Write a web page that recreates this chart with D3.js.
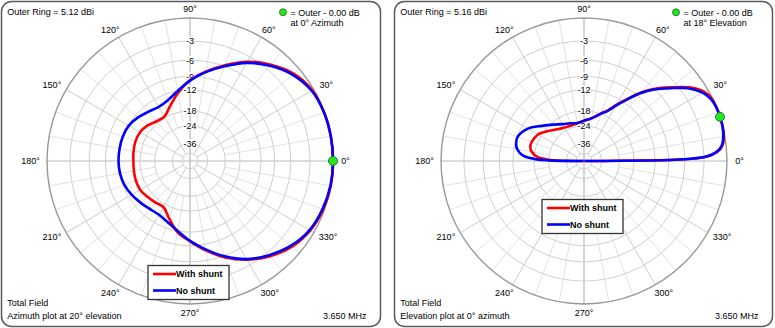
<!DOCTYPE html>
<html>
<head>
<meta charset="utf-8">
<script src="https://cdn.jsdelivr.net/npm/d3@7"></script>
<style>
  body { margin: 0; background: #fff; }
  svg { display: block; }
  text { font-family: "Liberation Sans", Arial, sans-serif; font-size: 9px; fill: #000; }
</style>
</head>
<body>
<svg id="chart" width="775" height="328"></svg>
<script>
// ---- Grid levels (dB below the outer ring) and angle ticks ----
const ringLevels = [-3, -6, -9, -12, -18, -24, -36];
const innerRingLevel = -50;
const angleTicks = [0, 30, 60, 90, 120, 150, 180, 210, 240, 270, 300, 330];
const minorAngles = [10, 20, 40, 50, 70, 80, 100, 110, 130, 140, 160, 170,
                     190, 200, 220, 230, 250, 260, 280, 290, 310, 320, 340, 350];
const seriesNames = ["With shunt", "No shunt"];

// ---- Azimuth pattern at 20° elevation (dB relative to outer ring) ----
const azAngles = [0, 10, 20, 30, 40, 50, 60, 70, 80, 90, 100, 110,
                  120, 130, 140, 150, 160, 170, 180, 190, 200, 210, 220, 230,
                  240, 250, 260, 270, 280, 290, 300, 310, 320, 330, 340, 350];
const azWithShunt = [0, 0, -0.05, -0.2, -0.9, -2.2, -3.8, -5.8, -7.8, -9.8, -12.5, -15.4,
                     -17.6, -17.4, -16.3, -15.6, -15.5, -15.7, -15.9, -15.8, -15.6, -15.6, -16.2, -16.7,
                     -17.0, -14.6, -11.7, -9.9, -7.8, -5.7, -3.9, -2.4, -1.2, -0.5, -0.15, 0];
const azNoShunt   = [0, 0, -0.05, -0.3, -1.1, -2.4, -4.0, -6.0, -7.9, -9.9, -12.0, -13.6,
                     -14.2, -13.7, -12.8, -12.1, -11.9, -11.9, -11.9, -12.0, -12.3, -12.9, -13.6, -14.2,
                     -14.3, -13.5, -12.0, -10.0, -8.0, -5.9, -4.0, -2.6, -1.4, -0.6, -0.25, -0.05];

// ---- Elevation pattern at 0° azimuth (dB relative to outer ring; -99 = null at horizon) ----
const elAngles = [0, 1, 2, 3, 5, 7, 10, 14, 18, 22, 26, 30, 35, 40, 45, 50, 55, 60, 65, 70,
                  80, 90, 100, 110, 120, 130, 140, 150, 160, 165, 170, 175, 178, 179, 180];
const elWithShunt = [-99, -6, -2.7, -1.7, -0.75, -0.35, -0.12, 0, 0, 0, -0.1, -0.55, -1.85, -3.8, -5.7, -8.0, -10.9, -13.6, -16.2, -17.7,
                     -20.4, -21.8, -22.6, -22.8, -22.4, -21.3, -19.2, -17.0, -16.2, -16.2, -17.0, -19.2, -24, -28, -99];
const elNoShunt   = [-99, -6, -2.8, -1.8, -0.85, -0.45, -0.19, -0.03, 0, -0.03, -0.2, -0.75, -2.05, -4.0, -5.9, -8.2, -11.1, -13.8, -16.4, -17.9,
                     -20.5, -21.7, -22.5, -21.8, -20.8, -18.9, -16.5, -13.6, -12.1, -12.2, -12.8, -14.6, -19, -24, -99];

// ---- Panel texts ----
const outerRing = ["Outer Ring = 5.12 dBi", "Outer Ring = 5.16 dBi"];
const maxNote = [["= Outer - 0.00 dB", "at 0° Azimuth"], ["= Outer - 0.00 dB", "at 18° Elevation"]];
const footNote = [["Total Field", "Azimuth plot at 20° elevation"], ["Total Field", "Elevation plot at 0° azimuth"]];
const freqLabel = "3.650 MHz";
const maxAngle = [0, 18];

const colors = ["#ff0000", "#0000ff"];
const R = 143;

const svg = d3.select("#chart");

// ARRL-style log scale: radius shrinks by 0.89 for every 2 dB, expressed as a power law on power ratio
const rScale = d3.scalePow()
  .exponent(-5 * Math.log(0.89) / Math.LN10)
  .domain([0, 1]).range([0, R]);
const radius = dB => rScale(Math.pow(10, dB / 10));
// compass angle (CCW from east, degrees) -> d3 radial angle
const angle = d3.scaleLinear().domain([0, 360]).range([Math.PI / 2, Math.PI / 2 - 2 * Math.PI]);
const polar = (deg, r) => [r * Math.sin(angle(deg)), -r * Math.cos(angle(deg))];

const panels = [
  { x: 1.5, w: 379, cx: 190, cy: 161, legendY: 265.5,
    series: [azWithShunt, azNoShunt], angles: azAngles, closed: true },
  { x: 394.5, w: 378, cx: 584, cy: 161, legendY: 199.5,
    series: [elWithShunt, elNoShunt], angles: elAngles, closed: false }
];

panels.forEach((p, i) => {
  const root = svg.append("g");
  root.append("rect")
    .attr("x", p.x).attr("y", 1.5).attr("width", p.w).attr("height", 325)
    .attr("rx", 10).attr("ry", 10)
    .attr("fill", "#fff").attr("stroke", "#5a5a5a").attr("stroke-width", 1.5);

  const g = root.append("g").attr("transform", `translate(${p.cx},${p.cy})`);
  const grid = g.append("g").attr("fill", "none");

  // minor spokes
  minorAngles.forEach(a => {
    const p0 = polar(a, radius(-24)), p1 = polar(a, R);
    grid.append("line").attr("x1", p0[0]).attr("y1", p0[1]).attr("x2", p1[0]).attr("y2", p1[1])
      .attr("stroke", "#e2e2e2").attr("stroke-width", 1);
  });
  // major spokes
  angleTicks.forEach(a => {
    const axis = a % 90 === 0;
    const p0 = polar(a, axis ? 0 : radius(innerRingLevel)), p1 = polar(a, R);
    grid.append("line").attr("x1", p0[0]).attr("y1", p0[1]).attr("x2", p1[0]).attr("y2", p1[1])
      .attr("stroke", axis ? "#b8b8b8" : "#cccccc").attr("stroke-width", axis ? 1.2 : 1);
  });
  // rings
  ringLevels.concat([innerRingLevel]).forEach(l => {
    grid.append("circle").attr("r", radius(l)).attr("stroke", "#cfcfcf").attr("stroke-width", 1);
  });
  grid.append("circle").attr("r", radius(0)).attr("stroke", "#999").attr("stroke-width", 1.4);

  // ring labels on the vertical axis
  ringLevels.forEach(l => {
    const t = g.append("text").attr("x", 0).attr("y", -radius(l) + 3.3)
      .attr("text-anchor", "middle").text(l);
    const bb = t.node().getBBox();
    g.insert("rect", () => t.node())
      .attr("x", bb.x - 0.5).attr("y", -radius(l) - 4).attr("width", bb.width + 1).attr("height", 8)
      .attr("fill", "#fff");
  });

  // angle labels around the outer ring
  angleTicks.forEach(a => {
    const t = g.append("text").attr("text-anchor", "middle").text(a + "°");
    const hw = t.node().getComputedTextLength() / 2;
    const pt = polar(a, 152);
    const c = Math.cos(a * Math.PI / 180);
    t.attr("x", pt[0] + hw * c * 0.8).attr("y", pt[1] + 3.3);
  });

  // pattern traces
  const line = d3.lineRadial()
    .angle(d => angle(d[0]))
    .radius(d => radius(d[1]))
    .curve(p.closed ? d3.curveCatmullRomClosed.alpha(0.5) : d3.curveCatmullRom.alpha(0.5));
  p.series.forEach((vals, k) => {
    const pts = p.angles.map((a, j) => [a, vals[j]]);
    g.append("path").attr("d", line(pts))
      .attr("fill", "none").attr("stroke", colors[k]).attr("stroke-width", 2.6)
      .attr("stroke-linejoin", "round");
  });

  // maximum marker on the outer ring
  const m = polar(maxAngle[i], radius(0));
  g.append("circle").attr("cx", m[0]).attr("cy", m[1]).attr("r", 4.5)
    .attr("fill", "#1fe81f").attr("stroke", "#2f6f2f").attr("stroke-width", 1);

  // series legend
  const lx = p.cx - 42, ly = p.legendY;
  root.append("rect").attr("x", lx).attr("y", ly).attr("width", 81).attr("height", 34)
    .attr("fill", "#fff").attr("stroke", "#333").attr("stroke-width", 1.3);
  seriesNames.forEach((name, k) => {
    const yy = ly + 8.5 + k * 16.5;
    root.append("line").attr("x1", lx + 5).attr("x2", lx + 28).attr("y1", yy).attr("y2", yy)
      .attr("stroke", colors[k]).attr("stroke-width", 2.6);
    root.append("text").attr("x", lx + 28).attr("y", yy + 3.3)
      .attr("font-weight", "bold").text(name);
  });

  // header and footer texts
  root.append("text").attr("x", p.x + 5.8).attr("y", 14.5).text(outerRing[i]);
  root.append("circle").attr("cx", p.x + 281.5).attr("cy", 12.3).attr("r", 3.5)
    .attr("fill", "#1fe81f").attr("stroke", "#2f6f2f").attr("stroke-width", 0.9);
  maxNote[i].forEach((s, k) => {
    root.append("text").attr("x", p.x + 289).attr("y", 15.5 + k * 10.3).text(s);
  });
  footNote[i].forEach((s, k) => {
    root.append("text").attr("x", p.x + 5.8).attr("y", 306 + k * 13).text(s);
  });
  root.append("text").attr("x", p.x + p.w - 14).attr("y", 319)
    .attr("text-anchor", "end").text(freqLabel);
});
</script>
</body>
</html>
